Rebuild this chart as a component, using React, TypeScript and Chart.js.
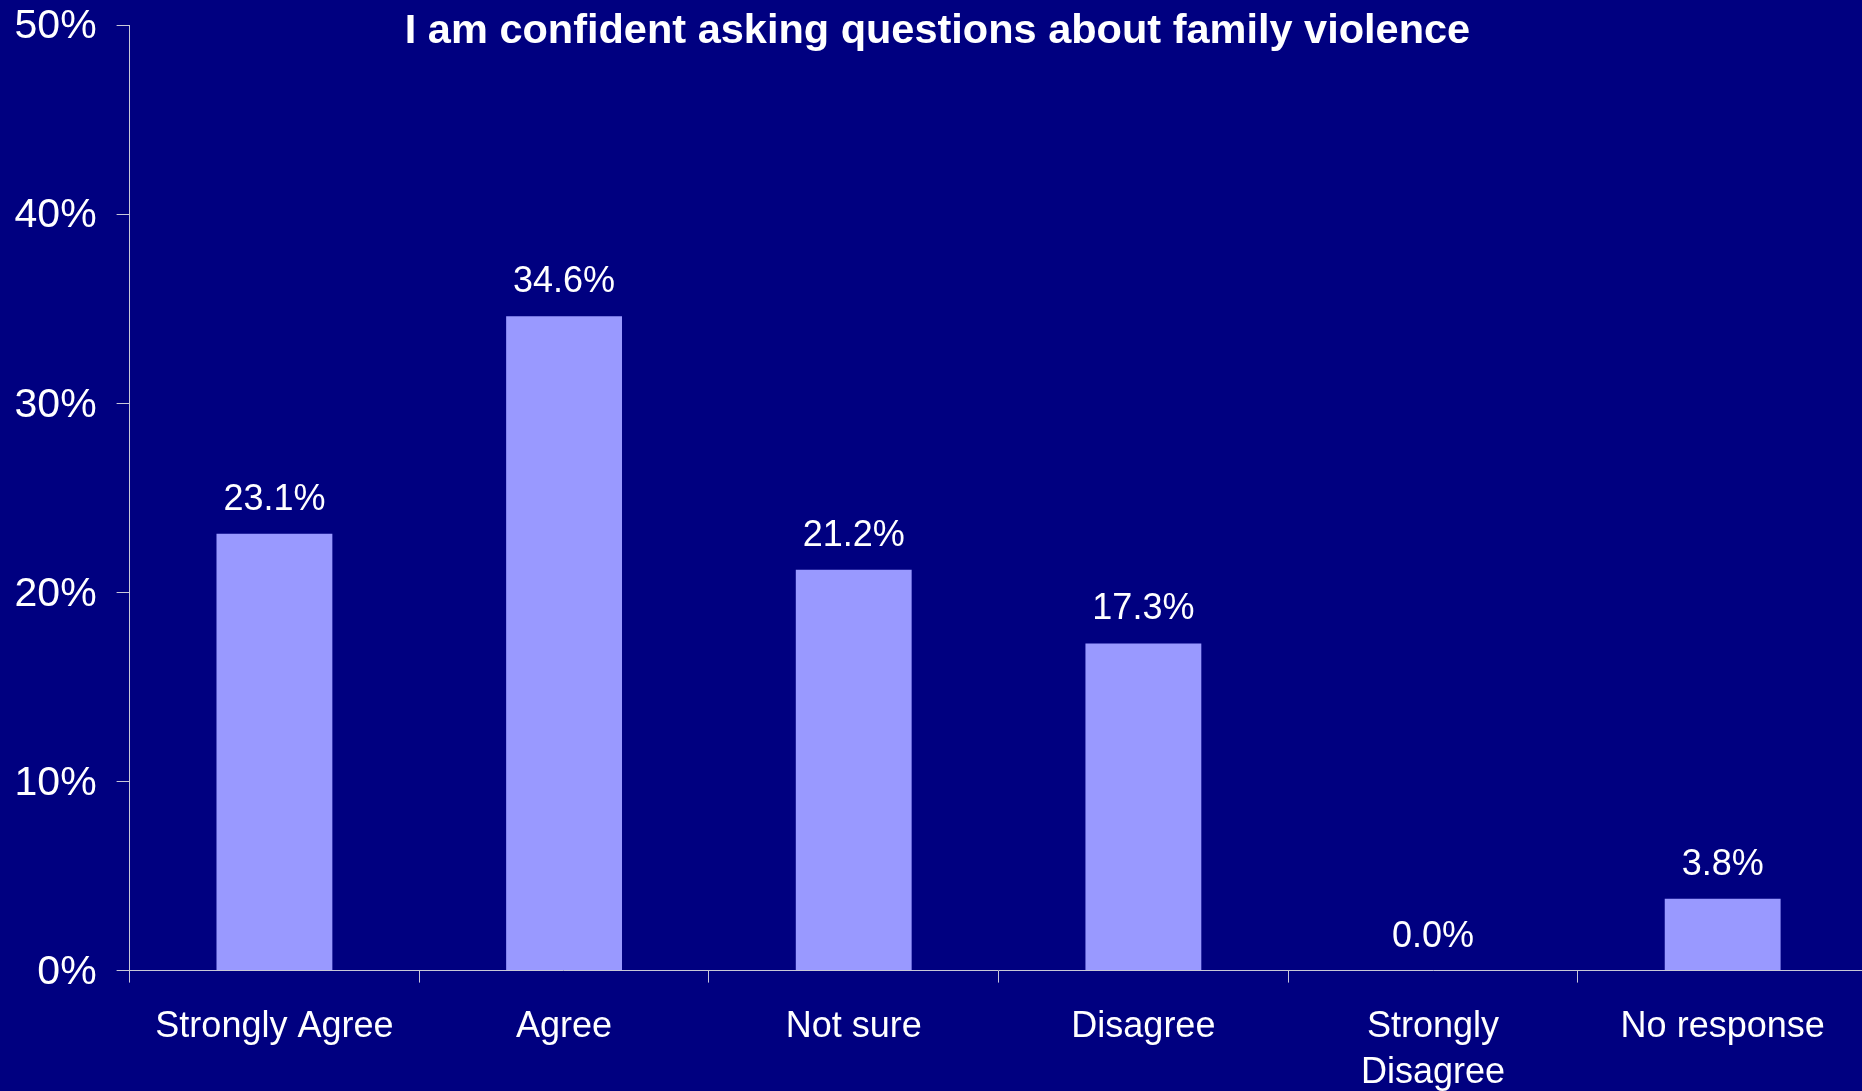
import React, { useEffect, useRef } from "react";
import { Chart, registerables } from "chart.js";

Chart.register(...registerables);

const TITLE = "I am confident asking questions about family violence";
const categories: (string | string[])[] = [
  "Strongly Agree",
  "Agree",
  "Not sure",
  "Disagree",
  ["Strongly", "Disagree"],
  "No response",
];
const values: number[] = [23.1, 34.6, 21.2, 17.3, 0.0, 3.8];
const yTicks: number[] = [0, 10, 20, 30, 40, 50];

const BG = "#000080";
const BAR = "#9999FF";
const AXIS = "#c8c8d8";
const TEXT = "#ffffff";
const FONT = "'Liberation Sans', Arial, Helvetica, sans-serif";

export default function App() {
  const ref = useRef<HTMLCanvasElement | null>(null);

  useEffect(() => {
    const canvas = ref.current;
    if (!canvas) return;

    const labelPlugin = {
      id: "barLabels",
      afterDatasetsDraw(chart: any) {
        const ctx = chart.ctx;
        const meta = chart.getDatasetMeta(0);
        ctx.save();
        ctx.fillStyle = TEXT;
        ctx.font = `36px ${FONT}`;
        ctx.textAlign = "center";
        ctx.textBaseline = "alphabetic";
        meta.data.forEach((bar: any, i: number) => {
          ctx.fillText(values[i].toFixed(1) + "%", bar.x, bar.y - 24);
        });
        ctx.restore();
      },
    };

    const titlePlugin = {
      id: "customTitle",
      afterDraw(chart: any) {
        const ctx = chart.ctx;
        ctx.save();
        ctx.fillStyle = TEXT;
        ctx.font = `bold 41.5px ${FONT}`;
        ctx.textAlign = "center";
        ctx.textBaseline = "alphabetic";
        ctx.fillText(TITLE, 937.5, 43);
        ctx.restore();
      },
    };

    const chart = new Chart(canvas, {
      type: "bar",
      data: {
        labels: categories as any,
        datasets: [
          {
            data: values,
            backgroundColor: BAR,
            borderWidth: 0,
            categoryPercentage: 1,
            barPercentage: 0.4,
          },
        ],
      },
      options: {
        responsive: false,
        animation: false,
        devicePixelRatio: 1,
        layout: { padding: { top: 25, right: 2.5, bottom: 0, left: 0 } },
        plugins: {
          legend: { display: false },
          tooltip: { enabled: false },
          title: { display: false },
        },
        scales: {
          x: {
            offset: true,
            grid: {
              display: true,
              offset: true,
              drawOnChartArea: false,
              drawTicks: true,
              tickLength: 12,
              color: AXIS,
              lineWidth: 1,
            },
            border: { display: true, color: AXIS, width: 1 },
            ticks: {
              color: TEXT,
              font: { family: FONT, size: 36, lineHeight: 1.29 },
              padding: 21,
              maxRotation: 0,
              minRotation: 0,
              autoSkip: false,
            },
            afterFit: (scale: any) => {
              scale.height = 120.4;
              scale.paddingLeft = 0;
              scale.paddingRight = 0;
            },
          },
          y: {
            min: 0,
            max: 50,
            afterBuildTicks: (scale: any) => {
              scale.ticks = yTicks.map((v) => ({ value: v }));
            },
            grid: {
              display: true,
              drawOnChartArea: false,
              drawTicks: true,
              tickLength: 13,
              color: AXIS,
              lineWidth: 1,
            },
            border: { display: true, color: AXIS, width: 1 },
            ticks: {
              color: TEXT,
              font: { family: FONT, size: 41 },
              padding: 20,
              labelOffset: 2,
              callback: (v: any) => `${v}%`,
            },
            afterFit: (scale: any) => {
              scale.width = 129.6;
              scale.paddingTop = 0;
              scale.paddingBottom = 0;
            },
          },
        },
      },
      plugins: [labelPlugin, titlePlugin],
    });

    return () => {
      chart.destroy();
    };
  }, []);

  return (
    <div
      style={{
        position: "fixed",
        left: 0,
        top: 0,
        width: 1862,
        height: 1091,
        overflow: "hidden",
        background: BG,
      }}
    >
      <canvas
        ref={ref}
        width={1870}
        height={1091}
        style={{ display: "block", width: 1870, height: 1091 }}
      />
    </div>
  );
}
